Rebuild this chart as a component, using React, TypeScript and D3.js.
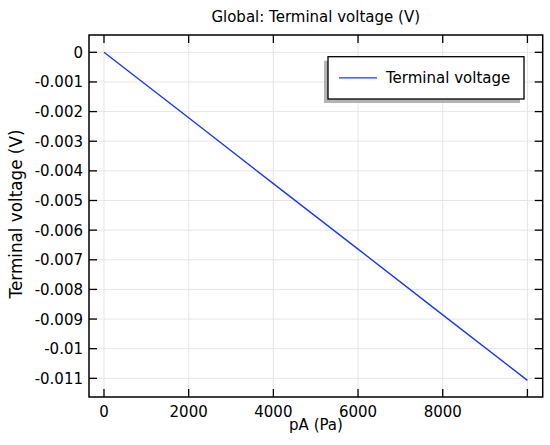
import React, { useEffect, useRef } from 'react';
import * as d3 from 'd3';

const pressure = [0, 2000, 4000, 6000, 8000, 10000];
const voltage = [0, -0.00221, -0.00443, -0.00664, -0.00886, -0.01107];
const xTicks = [0, 2000, 4000, 6000, 8000, 10000];
const xTickLabels = ['0', '2000', '4000', '6000', '8000', ''];
const yTicks = [0, -0.001, -0.002, -0.003, -0.004, -0.005, -0.006, -0.007, -0.008, -0.009, -0.01, -0.011];
const yTickLabels = ['0', '-0.001', '-0.002', '-0.003', '-0.004', '-0.005', '-0.006', '-0.007', '-0.008', '-0.009', '-0.01', '-0.011'];

const W = 550;
const H = 445;
const FONT = 'DejaVu Sans, sans-serif';

const App: React.FC = () => {
  const svgRef = useRef<SVGSVGElement | null>(null);

  useEffect(() => {
    if (!svgRef.current) return;
    const svg = d3.select(svgRef.current);
    svg.selectAll('*').remove();

    const left = 89;
    const right = 542.7;
    const top = 35;
    const bottom = 397;

    const x = d3.scaleLinear().domain([-354, 10361]).range([left, right]);
    const y = d3.scaleLinear().domain([0.000584, -0.01163]).range([top, bottom]);

    // grid
    svg.append('g')
      .selectAll('line')
      .data(xTicks)
      .enter()
      .append('line')
      .attr('x1', d => x(d))
      .attr('x2', d => x(d))
      .attr('y1', top)
      .attr('y2', bottom)
      .attr('stroke', '#e6e6e6')
      .attr('stroke-width', 1);
    svg.append('g')
      .selectAll('line')
      .data(yTicks)
      .enter()
      .append('line')
      .attr('x1', left)
      .attr('x2', right)
      .attr('y1', d => y(d))
      .attr('y2', d => y(d))
      .attr('stroke', '#e6e6e6')
      .attr('stroke-width', 1);

    // line
    const line = d3.line<number>()
      .x((_, i) => x(pressure[i]))
      .y(d => y(d));
    svg.append('path')
      .attr('d', line(voltage) || '')
      .attr('fill', 'none')
      .attr('stroke', '#1a3af0')
      .attr('stroke-width', 1.4);

    // frame
    svg.append('rect')
      .attr('x', left)
      .attr('y', top)
      .attr('width', right - left)
      .attr('height', bottom - top)
      .attr('fill', 'none')
      .attr('stroke', '#000')
      .attr('stroke-width', 1.5);

    // ticks (inward, on all four sides)
    const tl = 8;
    const ticks = svg.append('g').attr('stroke', '#000').attr('stroke-width', 1.3);
    xTicks.forEach(t => {
      ticks.append('line').attr('x1', x(t)).attr('x2', x(t)).attr('y1', bottom).attr('y2', bottom - tl);
      ticks.append('line').attr('x1', x(t)).attr('x2', x(t)).attr('y1', top).attr('y2', top + tl);
    });
    yTicks.forEach(t => {
      ticks.append('line').attr('x1', left).attr('x2', left + tl).attr('y1', y(t)).attr('y2', y(t));
      ticks.append('line').attr('x1', right).attr('x2', right - tl).attr('y1', y(t)).attr('y2', y(t));
    });

    // tick labels
    svg.append('g')
      .selectAll('text')
      .data(xTicks)
      .enter()
      .append('text')
      .attr('x', d => x(d))
      .attr('y', bottom + 19.5)
      .attr('text-anchor', 'middle')
      .attr('font-family', FONT)
      .attr('font-size', 15)
      .attr('fill', '#000')
      .text((_, i) => xTickLabels[i]);
    svg.append('g')
      .selectAll('text')
      .data(yTicks)
      .enter()
      .append('text')
      .attr('x', left - 6)
      .attr('y', d => y(d) + 5.5)
      .attr('text-anchor', 'end')
      .attr('font-family', FONT)
      .attr('font-size', 15)
      .attr('fill', '#000')
      .text((_, i) => yTickLabels[i]);

    // title and axis labels
    svg.append('text')
      .attr('x', 315.7)
      .attr('y', 21.5)
      .attr('text-anchor', 'middle')
      .attr('font-family', FONT)
      .attr('font-size', 15)
      .text('Global: Terminal voltage (V)');
    svg.append('text')
      .attr('x', 316)
      .attr('y', 429.5)
      .attr('text-anchor', 'middle')
      .attr('font-family', FONT)
      .attr('font-size', 15)
      .text('pA (Pa)');
    svg.append('text')
      .attr('transform', `translate(22,214) rotate(-90)`)
      .attr('text-anchor', 'middle')
      .attr('font-family', FONT)
      .attr('font-size', 16.8)
      .text('Terminal voltage (V)');

    // legend
    const lg = { x: 328, y: 56.7, w: 196, h: 42.3 };
    svg.append('rect')
      .attr('x', lg.x - 4)
      .attr('y', lg.y + 4)
      .attr('width', lg.w)
      .attr('height', lg.h)
      .attr('fill', '#b3b3b3');
    svg.append('rect')
      .attr('x', lg.x)
      .attr('y', lg.y)
      .attr('width', lg.w)
      .attr('height', lg.h)
      .attr('fill', '#fff')
      .attr('stroke', '#000')
      .attr('stroke-width', 1.3);
    svg.append('line')
      .attr('x1', 339)
      .attr('x2', 377)
      .attr('y1', lg.y + lg.h / 2)
      .attr('y2', lg.y + lg.h / 2)
      .attr('stroke', '#1a3af0')
      .attr('stroke-width', 1.4);
    svg.append('text')
      .attr('x', 386)
      .attr('y', lg.y + lg.h / 2 + 5.5)
      .attr('font-family', FONT)
      .attr('font-size', 15)
      .text('Terminal voltage');
  }, []);

  return (
    <svg
      ref={svgRef}
      width={W}
      height={H}
      style={{ position: 'absolute', left: 0, top: 0, background: '#fff', display: 'block' }}
    />
  );
};

export default App;
